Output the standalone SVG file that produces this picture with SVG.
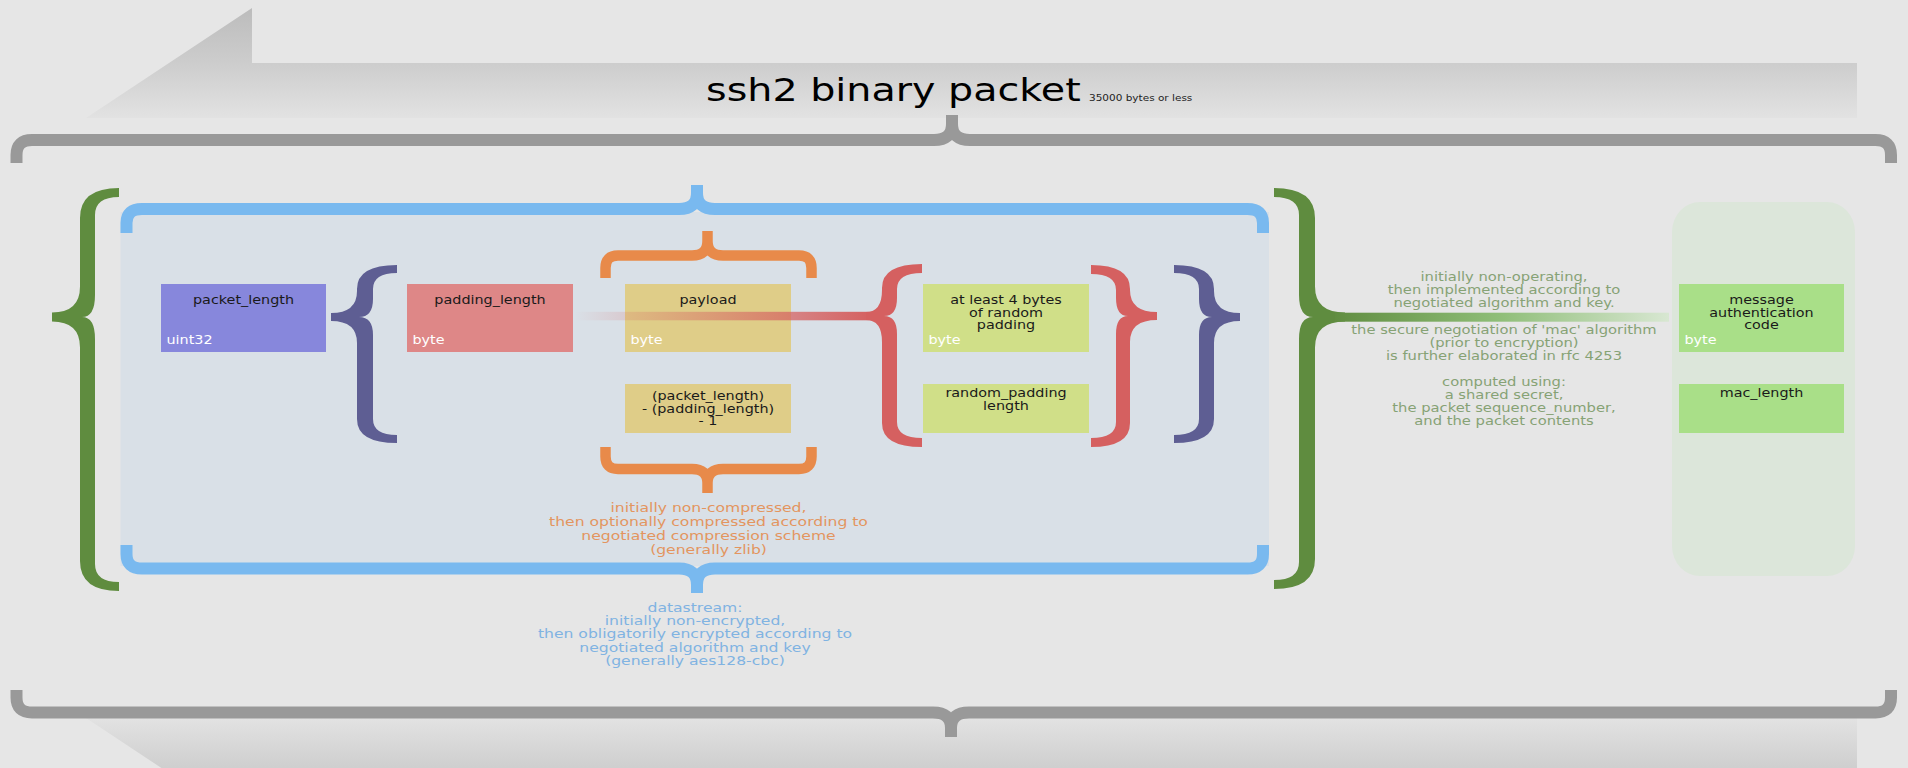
<svg xmlns="http://www.w3.org/2000/svg" width="1908" height="768" viewBox="0 0 1908 768">
<defs>
<linearGradient id="gTop" gradientUnits="userSpaceOnUse" x1="0" y1="8" x2="0" y2="120"><stop offset="0" stop-color="#bcbcbc"/><stop offset="0.5" stop-color="#cdcdcd"/><stop offset="1" stop-color="#e3e3e3"/></linearGradient>
<linearGradient id="gBot" gradientUnits="userSpaceOnUse" x1="0" y1="716" x2="0" y2="828"><stop offset="0" stop-color="#e3e3e3"/><stop offset="0.5" stop-color="#cdcdcd"/><stop offset="1" stop-color="#bcbcbc"/></linearGradient>
<linearGradient id="gRed" gradientUnits="userSpaceOnUse" x1="575" y1="0" x2="872" y2="0"><stop offset="0" stop-color="#d56060" stop-opacity="0"/><stop offset="1" stop-color="#d56060"/></linearGradient>
<linearGradient id="gGreen" gradientUnits="userSpaceOnUse" x1="1330" y1="0" x2="1669" y2="0"><stop offset="0" stop-color="#5f8c3f"/><stop offset="0.5" stop-color="#8fbe78"/><stop offset="1" stop-color="#d8e7d2"/></linearGradient>
</defs>
<style>
.t{font-family:"DejaVu Sans","Liberation Sans",sans-serif;}
.lbl{font-size:11.5px;fill:#1a1a1a;text-anchor:middle;}
.typ{font-size:11.5px;fill:#ffffff;}
.mac{font-size:11.8px;fill:#86a275;text-anchor:middle;}
.cap{font-size:12.5px;text-anchor:middle;}
.hb{fill:none;stroke-linecap:butt;stroke-linejoin:round;}
</style>
<rect width="1908" height="768" fill="#e6e6e6"/>
<g id="banner">
<polygon points="252,8 252,63 1857,63 1857,118 86,118" fill="url(#gTop)"/>
<polygon points="86,718 1857,718 1857,773 252,773 252,828" fill="url(#gBot)"/>
</g>
<g id="datastream-area">
<rect x="120.5" y="212" width="1148.5" height="354" fill="#d9e0e7"/>
</g>
<g id="mac-area">
<rect x="1672" y="202" width="183" height="374" rx="28" ry="30" fill="#dce6da"/>
</g>
<g id="braces">
<path class="hb" stroke="#999999" stroke-width="12" d="M16.5,163 V155 Q16.5,140 32,140 H934 Q952,140 952,124 V115 M952,124 Q952,140 970,140 H1875.5 Q1891,140 1891,155 V163"/>
<path class="hb" stroke="#999999" stroke-width="12" d="M16.5,690 V697.5 Q16.5,712.5 32,712.5 H933 Q951,712.5 951,728 V737 M951,728 Q951,712.5 969,712.5 H1875.5 Q1891,712.5 1891,697.5 V690"/>
<path class="hb" stroke="#79b9ef" stroke-width="12" d="M126.5,233 V223 Q126.5,209 142,209 H679 Q697,209 697,193 V185 M697,193 Q697,209 715,209 H1247.5 Q1263,209 1263,223 V233"/>
<path class="hb" stroke="#79b9ef" stroke-width="12" d="M126.5,545 V554 Q126.5,568.5 142,568.5 H679 Q697,568.5 697,585 V593 M697,585 Q697,568.5 715,568.5 H1247.5 Q1263,568.5 1263,554 V545"/>
<path class="hb" stroke="#e88a4a" stroke-width="10.5" d="M605.5,278 V268 Q605.5,255.5 618,255.5 H692 Q707.5,255.5 707.5,241 V231 M707.5,241 Q707.5,255.5 723,255.5 H799 Q811.5,255.5 811.5,268 V278"/>
<path class="hb" stroke="#e88a4a" stroke-width="10.5" d="M605.5,447 V456.5 Q605.5,469 618,469 H692 Q707.5,469 707.5,483 V493 M707.5,483 Q707.5,469 723,469 H799 Q811.5,469 811.5,456.5 V447"/>
<path fill="#5f8c3f" d="M119,188 Q80,188 80,218 L80,286.5 Q80,312.5 52,312.5 L52,321.5 Q80,321.5 80,347.5 L80,561 Q80,591 119,591 L119,582 Q95,582 95,564 L95,339 Q95,317 82,317 Q95,317 95,295 L95,215 Q95,197 119,197 Z"/>
<path fill="#5f8c3f" d="M1274,188 Q1315,188 1315,218 L1315,286.5 Q1315,312.5 1345,312.5 L1345,321.5 Q1315,321.5 1315,347.5 L1315,559 Q1315,589 1274,589 L1274,580 Q1299,580 1299,562 L1299,339 Q1299,317 1313,317 Q1299,317 1299,295 L1299,215 Q1299,197 1274,197 Z"/>
<path fill="#5e5e93" d="M397,265 Q357,265 357,289 L357,291 Q357,313 331,313 L331,321 Q357,321 357,343 L357,419 Q357,443 397,443 L397,435 Q373,435 373,419 L373,335 Q373,317 359,317 Q373,317 373,299 L373,289 Q373,273 397,273 Z"/>
<path fill="#5e5e93" d="M1174,265 Q1214,265 1214,289 L1214,291 Q1214,313 1240,313 L1240,321 Q1214,321 1214,343 L1214,419 Q1214,443 1174,443 L1174,435 Q1199,435 1199,419 L1199,335 Q1199,317 1212,317 Q1199,317 1199,299 L1199,289 Q1199,273 1174,273 Z"/>
<path fill="#d56060" d="M922,264 Q882,264 882,288 L882,290 Q882,312 866,312 L866,320 Q882,320 882,342 L882,423 Q882,447 922,447 L922,438 Q897,438 897,422 L897,334 Q897,316 884,316 Q897,316 897,298 L897,289 Q897,273 922,273 Z"/>
<path fill="#d56060" d="M1091,265 Q1130,265 1130,289 L1130,290 Q1130,312 1157,312 L1157,320 Q1130,320 1130,342 L1130,423 Q1130,447 1091,447 L1091,438 Q1116,438 1116,422 L1116,334 Q1116,316 1128,316 Q1116,316 1116,298 L1116,290 Q1116,274 1091,274 Z"/>
</g>
<g id="packet_length">
<rect x="161" y="284" width="165" height="68" fill="#8787dc"/>
<text class="t lbl" transform="translate(243.5 0) scale(1.25 1)" x="0" y="304">packet_length</text>
<text class="t typ" transform="translate(166.5 0) scale(1.25 1)" x="0" y="344.5">uint32</text>
</g>
<g id="padding_length">
<rect x="407" y="284" width="166" height="68" fill="#de8787"/>
<text class="t lbl" transform="translate(490 0) scale(1.25 1)" x="0" y="304">padding_length</text>
<text class="t typ" transform="translate(412.5 0) scale(1.25 1)" x="0" y="344.5">byte</text>
</g>
<g id="payload">
<rect x="625" y="284" width="166" height="68" fill="#dfcd88"/>
<text class="t lbl" transform="translate(708 0) scale(1.25 1)" x="0" y="304">payload</text>
<text class="t typ" transform="translate(630.5 0) scale(1.25 1)" x="0" y="344.5">byte</text>
</g>
<g id="payload_length">
<rect x="625" y="384" width="166" height="49" fill="#dfcd88"/>
<text class="t lbl" transform="translate(708 0) scale(1.25 1)"><tspan x="0" y="400">(packet_length)</tspan><tspan x="0" y="412.6">- (padding_length)</tspan><tspan x="0" y="425.2">- 1</tspan></text>
</g>
<g id="random_padding">
<rect x="923" y="284" width="166" height="68" fill="#d0df88"/>
<text class="t lbl" transform="translate(1006 0) scale(1.25 1)"><tspan x="0" y="304">at least 4 bytes</tspan><tspan x="0" y="316.6">of random</tspan><tspan x="0" y="329.2">padding</tspan></text>
<text class="t typ" transform="translate(928.5 0) scale(1.25 1)" x="0" y="344.5">byte</text>
</g>
<g id="random_padding_length">
<rect x="923" y="384" width="166" height="49" fill="#d0df88"/>
<text class="t lbl" transform="translate(1006 0) scale(1.25 1)"><tspan x="0" y="397">random_padding</tspan><tspan x="0" y="409.6">length</tspan></text>
</g>
<g id="mac">
<rect x="1679" y="284" width="165" height="68" fill="#a9df88"/>
<text class="t lbl" transform="translate(1761.5 0) scale(1.25 1)"><tspan x="0" y="304">message</tspan><tspan x="0" y="316.6">authentication</tspan><tspan x="0" y="329.2">code</tspan></text>
<text class="t typ" transform="translate(1684.5 0) scale(1.25 1)" x="0" y="344.5">byte</text>
</g>
<g id="mac_length">
<rect x="1679" y="384" width="165" height="49" fill="#a9df88"/>
<text class="t lbl" transform="translate(1761.5 0) scale(1.25 1)" x="0" y="397">mac_length</text>
</g>
<g id="connectors">
<rect x="575" y="311.8" width="300" height="8.5" fill="url(#gRed)"/>
<rect x="1335" y="312.7" width="334" height="9" fill="url(#gGreen)"/>
</g>
<g id="title">
<text class="t" transform="translate(706 0) scale(1.25 1)" x="0" y="101" font-size="31.7" fill="#000000">ssh2 binary packet</text>
<text class="t" transform="translate(1089 0) scale(1.25 1)" x="0" y="101" font-size="8.4" fill="#222222">35000 bytes or less</text>
</g>
<g id="mac-notes">
<text class="t mac" transform="translate(1504 0) scale(1.25 1)"><tspan x="0" y="281.5">initially non-operating,</tspan><tspan x="0" y="294.2">then implemented according to</tspan><tspan x="0" y="306.8">negotiated algorithm and key.</tspan><tspan x="0" y="334.3">the secure negotiation of 'mac' algorithm</tspan><tspan x="0" y="347">(prior to encryption)</tspan><tspan x="0" y="359.7">is further elaborated in rfc 4253</tspan><tspan x="0" y="386.5">computed using:</tspan><tspan x="0" y="399.3">a shared secret,</tspan><tspan x="0" y="412.1">the packet sequence_number,</tspan><tspan x="0" y="424.9">and the packet contents</tspan></text>
</g>
<g id="compression-note">
<text class="t cap" fill="#e3955f" transform="translate(708.5 0) scale(1.25 1)"><tspan x="0" y="512.5">initially non-compressed,</tspan><tspan x="0" y="526.3">then optionally compressed according to</tspan><tspan x="0" y="540.1">negotiated compression scheme</tspan><tspan x="0" y="553.9">(generally zlib)</tspan></text>
</g>
<g id="encryption-note">
<text class="t cap" fill="#80b3e2" transform="translate(695 0) scale(1.25 1)"><tspan x="0" y="612">datastream:</tspan><tspan x="0" y="625.2">initially non-encrypted,</tspan><tspan x="0" y="638.4">then obligatorily encrypted according to</tspan><tspan x="0" y="651.6">negotiated algorithm and key</tspan><tspan x="0" y="664.8">(generally aes128-cbc)</tspan></text>
</g>
</svg>
